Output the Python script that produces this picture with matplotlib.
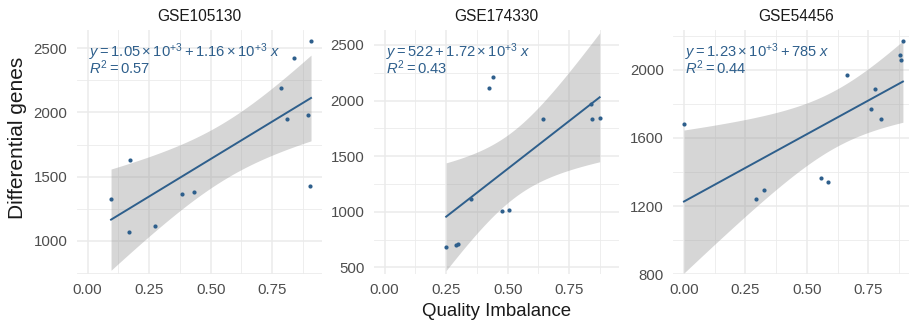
import numpy as np
import matplotlib
matplotlib.use("Agg")
import matplotlib.pyplot as plt
from matplotlib.ticker import MultipleLocator, FormatStrFormatter

plt.rcParams['font.family'] = ['Liberation Sans', 'DejaVu Sans']
plt.rcParams['mathtext.fontset'] = 'custom'
plt.rcParams['mathtext.rm'] = 'Liberation Sans'
plt.rcParams['mathtext.it'] = 'Liberation Sans:italic'

# ---- data ----
titles = ["GSE105130", "GSE174330", "GSE54456"]

x1 = [0.095, 0.166, 0.173, 0.275, 0.385, 0.434, 0.786, 0.809, 0.837, 0.896, 0.903, 0.908]
y1 = [1325, 1068, 1632, 1115, 1367, 1382, 2193, 1947, 2425, 1980, 1429, 2560]

x2 = [0.250, 0.289, 0.300, 0.352, 0.424, 0.442, 0.477, 0.507, 0.644, 0.839, 0.843, 0.874]
y2 = [683, 704, 713, 1112, 2113, 2212, 1010, 1019, 1831, 1969, 1831, 1846]

x3 = [0.000, 0.292, 0.324, 0.556, 0.586, 0.661, 0.760, 0.777, 0.800, 0.879, 0.883, 0.890]
y3 = [1682, 1241, 1296, 1363, 1341, 1973, 1769, 1890, 1714, 2088, 2059, 2173]

eq_labels = [r"$\mathit{y} = 1.05\times10^{+3} + 1.16\times10^{+3}\ \mathit{x}$",
             r"$\mathit{y} = 522 + 1.72\times10^{+3}\ \mathit{x}$",
             r"$\mathit{y} = 1.23\times10^{+3} + 785\ \mathit{x}$"]
r2_labels = [r"$\mathit{R}^{2} = 0.57$", r"$\mathit{R}^{2} = 0.43$", r"$\mathit{R}^{2} = 0.44$"]

xs = [x1, x2, x3]
ys = [y1, y2, y3]

ylims = [(739, 2647), (438, 2639), (799, 2238)]
ymajor = [500, 500, 400]
yminor = [250, 250, 200]

xlabel = "Quality Imbalance"
ylabel = "Differential genes"

# ---- style ----
blue = '#2e5f8c'
grid_c = '#ebebeb'
tick_c = '#4d4d4d'
T975_10 = 2.228139  # t quantile, df = 10

W, H = 909, 323
fig = plt.figure(figsize=(W / 100, H / 100), dpi=100)

lefts = [76.5, 373.5, 672.8]
pw = 245.7
top_px, bot_px = 29.5, 274.2

allx = np.concatenate([np.asarray(v, float) for v in xs])
xr = allx.max() - allx.min()
xlim = (allx.min() - 0.05 * xr, allx.max() + 0.05 * xr)

for i in range(3):
    ax = fig.add_axes([lefts[i] / W, 1 - bot_px / H, pw / W, (bot_px - top_px) / H])
    x = np.asarray(xs[i], float)
    y = np.asarray(ys[i], float)
    n = len(x)
    b, a = np.polyfit(x, y, 1)
    xx = np.linspace(x.min(), x.max(), 80)
    yy = a + b * xx
    resid = y - (a + b * x)
    s = np.sqrt(np.sum(resid ** 2) / (n - 2))
    sxx = np.sum((x - x.mean()) ** 2)
    se = s * np.sqrt(1 / n + (xx - x.mean()) ** 2 / sxx)
    ax.fill_between(xx, yy - T975_10 * se, yy + T975_10 * se, color='#999999',
                    alpha=0.4, linewidth=0, zorder=2)
    ax.plot(xx, yy, color=blue, lw=1.4, zorder=3)
    ax.scatter(x, y, s=9, color=blue, zorder=4, linewidths=0)

    ax.set_xlim(*xlim)
    ax.set_ylim(*ylims[i])
    ax.xaxis.set_major_locator(MultipleLocator(0.25))
    ax.xaxis.set_minor_locator(MultipleLocator(0.125))
    ax.xaxis.set_major_formatter(FormatStrFormatter('%.2f'))
    ax.yaxis.set_major_locator(MultipleLocator(ymajor[i]))
    ax.yaxis.set_minor_locator(MultipleLocator(yminor[i]))

    ax.grid(True, which='major', color=grid_c, lw=1.1, zorder=0)
    ax.grid(True, which='minor', color=grid_c, lw=0.6, zorder=0)
    ax.set_axisbelow(True)
    for sp in ax.spines.values():
        sp.set_visible(False)
    ax.tick_params(which='both', length=0, labelsize=10.8, labelcolor=tick_c)
    ax.tick_params(axis='x', pad=6.5)
    ax.tick_params(axis='y', pad=6.5)

    ax.set_title(titles[i], fontsize=11.2, color='#1a1a1a', pad=6.3)
    ax.text(0.05, 0.889, eq_labels[i], transform=ax.transAxes, color=blue,
            fontsize=10.6, ha='left', va='baseline', zorder=5)
    ax.text(0.05, 0.819, r2_labels[i], transform=ax.transAxes, color=blue,
            fontsize=10.6, ha='left', va='baseline', zorder=5)

fig.text(497 / W, 1 - 316 / H, xlabel, ha='center', va='baseline', fontsize=13.4,
         color='#1a1a1a')
fig.text(18 / W, 1 - 137.5 / H, ylabel, ha='center', va='center', rotation=90,
         fontsize=15.0, color='#1a1a1a')

fig.savefig('out.png', dpi=100)
